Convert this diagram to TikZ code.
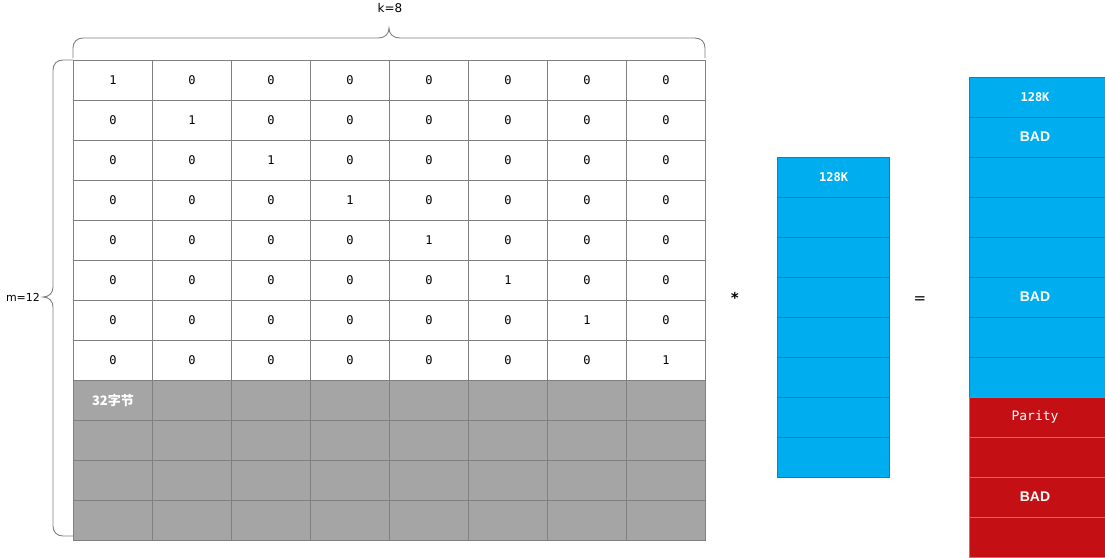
\documentclass[tikz,border=0pt]{standalone}
\usepackage{fontspec}
\setmainfont{DejaVu Sans}
\newfontfamily\monofont{DejaVu Sans Mono}
\newfontfamily\arialfont{Liberation Sans}
\newfontfamily\cjkfont{Noto Sans CJK SC}
\usepackage{tikz}
\usetikzlibrary{positioning}
\definecolor{cellblue}{RGB}{0,174,239}
\definecolor{cellgrey}{RGB}{165,165,165}
\definecolor{cellred}{RGB}{196,16,20}
\definecolor{gridline}{RGB}{128,128,128}
\definecolor{blueline}{RGB}{60,115,145}
\definecolor{redline}{RGB}{200,110,110}
\tikzstyle{cell} = [rectangle, draw=gridline, line width=0.9pt, anchor=north west,
    minimum width=79pt, minimum height=40pt, inner sep=0pt,
    font=\monofont\fontsize{12}{12}\selectfont]
\tikzstyle{parity} = [cell, fill=cellgrey, text=white]
\tikzstyle{chunk} = [cell, draw=blueline, line width=1.2pt, fill=cellblue, text=white, minimum width=112pt]
\tikzstyle{stripe} = [chunk, minimum width=140pt]
\tikzstyle{paritychunk} = [stripe, draw=redline, fill=cellred]
\tikzstyle{brace} = [draw=gridline, line width=0.9pt]
\tikzstyle{bold} = [font=\arialfont\bfseries\fontsize{14}{14}\selectfont]

\begin{document}
\begin{tikzpicture}[x=1pt, y=-1pt]
  \useasboundingbox (0,0) rectangle (1105,557);
  \clip (0,0) rectangle (1105,557);
  % Place nodes
  \foreach \r in {1,...,8}
    \foreach \c in {1,...,8}
      \node [cell] (m-\r-\c) at ({73+79*(\c-1)}, {60+40*(\r-1)}) {\ifnum\r=\c\relax 1\else 0\fi};
  \foreach \r in {9,...,12}
    \foreach \c in {1,...,8}
      \node [parity] (m-\r-\c) at ({73+79*(\c-1)}, {60+40*(\r-1)}) {};
  \node [text=white, font=\cjkfont\bfseries\fontsize{13}{13}\selectfont] (bytes) at (m-9-1) {32字节};
  \foreach \r in {1,...,8}
    \node [chunk] (d-\r) at (777, {157+40*(\r-1)}) {};
  \node [text=white, font=\monofont\bfseries\fontsize{12}{12}\selectfont] at (d-1) {128K};
  \foreach \r in {1,...,8}
    \node [stripe] (s-\r) at (969, {77+40*(\r-1)}) {};
  \foreach \r in {9,...,12}
    \node [paritychunk] (s-\r) at (969, {77+40*(\r-1)}) {};
  \node [text=white, font=\monofont\bfseries\fontsize{12}{12}\selectfont] at (1035,97) {128K};
  \node [bold, text=white] at (1035,137) {BAD};
  \node [bold, text=white] at (1035,297) {BAD};
  \node [text=white, font=\monofont\fontsize{13}{13}\selectfont] at (1035,417) {Parity};
  \node [bold, text=white] at (1035,497) {BAD};
  \node [font=\fontsize{12}{12}\selectfont] (klabel) at (390,8) {k=8};
  \node [font=\fontsize{11}{11}\selectfont] (mlabel) at (23,297) {m=12};
  \node [font=\monofont\bfseries\fontsize{15}{15}\selectfont] (times) at (735,298) {*};
  \node [font=\fontsize{15}{15}\selectfont] (equals) at (920,300) {=};
  % Draw braces
  \path [brace] (73,58) -- (73,48) .. controls (73,42) and (77,38) .. (83,38)
    -- (378,38) .. controls (385,38) and (389,34) .. (389,28)
    .. controls (389,34) and (393,38) .. (400,38) -- (695,38)
    .. controls (701,38) and (705,42) .. (705,48) -- (705,58);
  \path [brace] (m-1-1.north west) -- (63,60) .. controls (57,60) and (53,64) .. (53,70)
    -- (53,287) .. controls (53,293) and (49,297) .. (43,297)
    .. controls (49,297) and (53,301) .. (53,307) -- (53,526)
    .. controls (53,532) and (57,536) .. (63,536) -- (73,536);
\end{tikzpicture}
\end{document}
